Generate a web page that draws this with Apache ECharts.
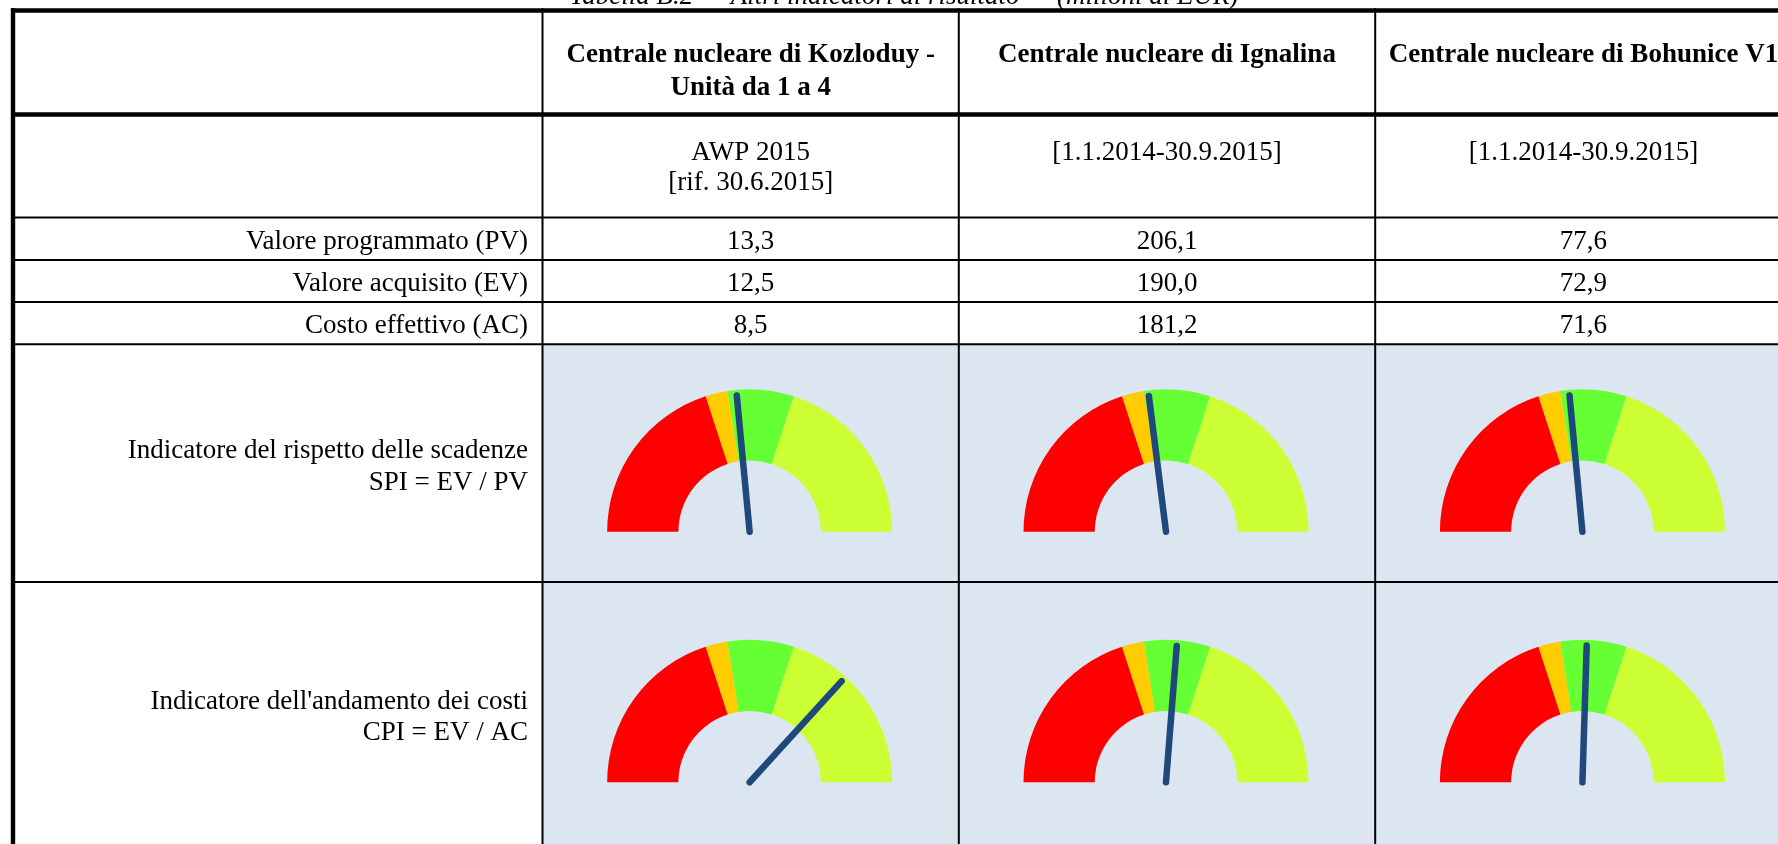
<!DOCTYPE html>
<html>
<head>
<meta charset="utf-8">
<script src="https://cdn.jsdelivr.net/npm/echarts@6/dist/echarts.min.js"></script>
<style>
html,body{margin:0;padding:0;background:#ffffff;overflow:hidden}
#chart{width:1778px;height:844px}
</style>
</head>
<body>
<div id="chart"></div>
<script>
// ---- data ----
const title = 'Tabella B.2 — Altri indicatori di risultato — (milioni di EUR)';
const plantHeaders = [['Centrale nucleare di Kozloduy -', 'Unità da 1 a 4'], ['Centrale nucleare di Ignalina'], ['Centrale nucleare di Bohunice V1']];
const periods = [['AWP 2015', '[rif. 30.6.2015]'], ['[1.1.2014-30.9.2015]'], ['[1.1.2014-30.9.2015]']];
const valueRowLabels = ['Valore programmato (PV)', 'Valore acquisito (EV)', 'Costo effettivo (AC)'];
const pvValues = ['13,3', '206,1', '77,6'];
const evValues = ['12,5', '190,0', '72,9'];
const acValues = ['8,5', '181,2', '71,6'];
const spiLabel = ['Indicatore del rispetto delle scadenze', 'SPI = EV / PV'];
const cpiLabel = ["Indicatore dell'andamento dei costi", 'CPI = EV / AC'];
const spiValues = [0.94, 0.92, 0.94];
const cpiValues = [1.47, 1.05, 1.02];
const gaugeMin = 0, gaugeMax = 2;
const bandLimits = [0.8, 0.9, 1.2, 1.3, 2.0];
const bandColors = ['#FF0000', '#FFCC00', '#66FF33', '#CCFF33', '#CCFF33'];

// ---- layout ----
const W = 1778, H = 844;
const colX = [542.5, 958.8, 1375.2, 1791.6];
const labelRight = 528;
const FONT = '"Liberation Serif", "Times New Roman", serif';
const FS = 27;

const chart = echarts.init(document.getElementById('chart'), null, {renderer: 'canvas'});
const graphics = [];

function txt(s, x, y, align, opts) {
  opts = opts || {};
  const font = (opts.italic ? 'italic ' : '') + (opts.bold ? 'bold ' : '') + FS + 'px ' + FONT;
  graphics.push({
    type: 'text', z: 50, silent: true,
    style: {text: s, x: x, y: y, font: font, fill: '#000000',
      align: align, verticalAlign: 'middle', textAlign: align, textVerticalAlign: 'middle'}
  });
}
function rect(x, y, w, h, fill, z) {
  graphics.push({type: 'rect', z: z, silent: true, shape: {x: x, y: y, width: w, height: h}, style: {fill: fill}});
}

// backgrounds
rect(0, 0, W, H, '#ffffff', -20);
rect(colX[0], 344, W - colX[0], H - 344, '#DCE6F1', -10);

// grid lines
const thick = 4.4, thin = 2;
rect(11, 8.3, W, thick, '#000', 100);          // top border
rect(11, 112.3, W, thick, '#000', 100);        // header bottom
[217.5, 260, 302, 344.3, 582].forEach(function (y) { rect(13, y - thin / 2, W, thin, '#000', 100); });
rect(10.8, 8.3, thick, H, '#000', 100);        // left border
colX.forEach(function (x) { rect(x - thin / 2, 8.3, thin, H, '#000', 100); });

// title (partly cut off at top)
txt(title, 904, -3, 'center', {italic: true});

const colCenter = function (i) { return (colX[i] + colX[i + 1]) / 2; };

// header
plantHeaders.forEach(function (lines, i) {
  lines.forEach(function (l, k) { txt(l, colCenter(i), 55.5 + k * 32.5, 'center', {bold: true}); });
});
periods.forEach(function (lines, i) {
  lines.forEach(function (l, k) { txt(l, colCenter(i), 152.5 + k * 30.5, 'center'); });
});

// value rows
const rowY = [241.5, 284, 326];
const rowVals = [pvValues, evValues, acValues];
valueRowLabels.forEach(function (lab, r) {
  txt(lab, labelRight, rowY[r], 'right');
  rowVals[r].forEach(function (v, i) { txt(v, colCenter(i), rowY[r], 'center'); });
});

// indicator labels
spiLabel.forEach(function (l, k) { txt(l, labelRight, 450.5 + k * 32, 'right'); });
cpiLabel.forEach(function (l, k) { txt(l, labelRight, 701.5 + k * 31.5, 'right'); });

// gauges
const bands = bandLimits.map(function (v, i) { return [(v - gaugeMin) / (gaugeMax - gaugeMin), bandColors[i]]; });
const R = 142.5;
function gauge(value, cx, cy) {
  return {
    type: 'gauge', z: 5,
    center: [cx, cy], radius: R,
    startAngle: 180, endAngle: 0, min: gaugeMin, max: gaugeMax,
    axisLine: {show: true, roundCap: false, lineStyle: {width: R / 2, color: bands}},
    progress: {show: false},
    splitLine: {show: false}, axisTick: {show: false}, axisLabel: {show: false},
    pointer: {show: true, icon: 'path://M0,3.25A3.25,3.25,0,0,1,6.5,3.25L6.5,140A3.25,3.25,0,0,1,0,140Z',
      length: 143.25, width: 6.5, offsetCenter: [0, 3.25], keepAspect: false,
      itemStyle: {color: '#1F497D'}},
    anchor: {show: false}, title: {show: false}, detail: {show: false},
    data: [{value: value}]
  };
}
const series = [];
spiValues.forEach(function (v, i) { series.push(gauge(v, colCenter(i) - 1, 531.7)); });
cpiValues.forEach(function (v, i) { series.push(gauge(v, colCenter(i) - 1, 782.3)); });

chart.setOption({
  animation: false,
  backgroundColor: '#ffffff',
  graphic: {elements: graphics},
  series: series
});
</script>
</body>
</html>
